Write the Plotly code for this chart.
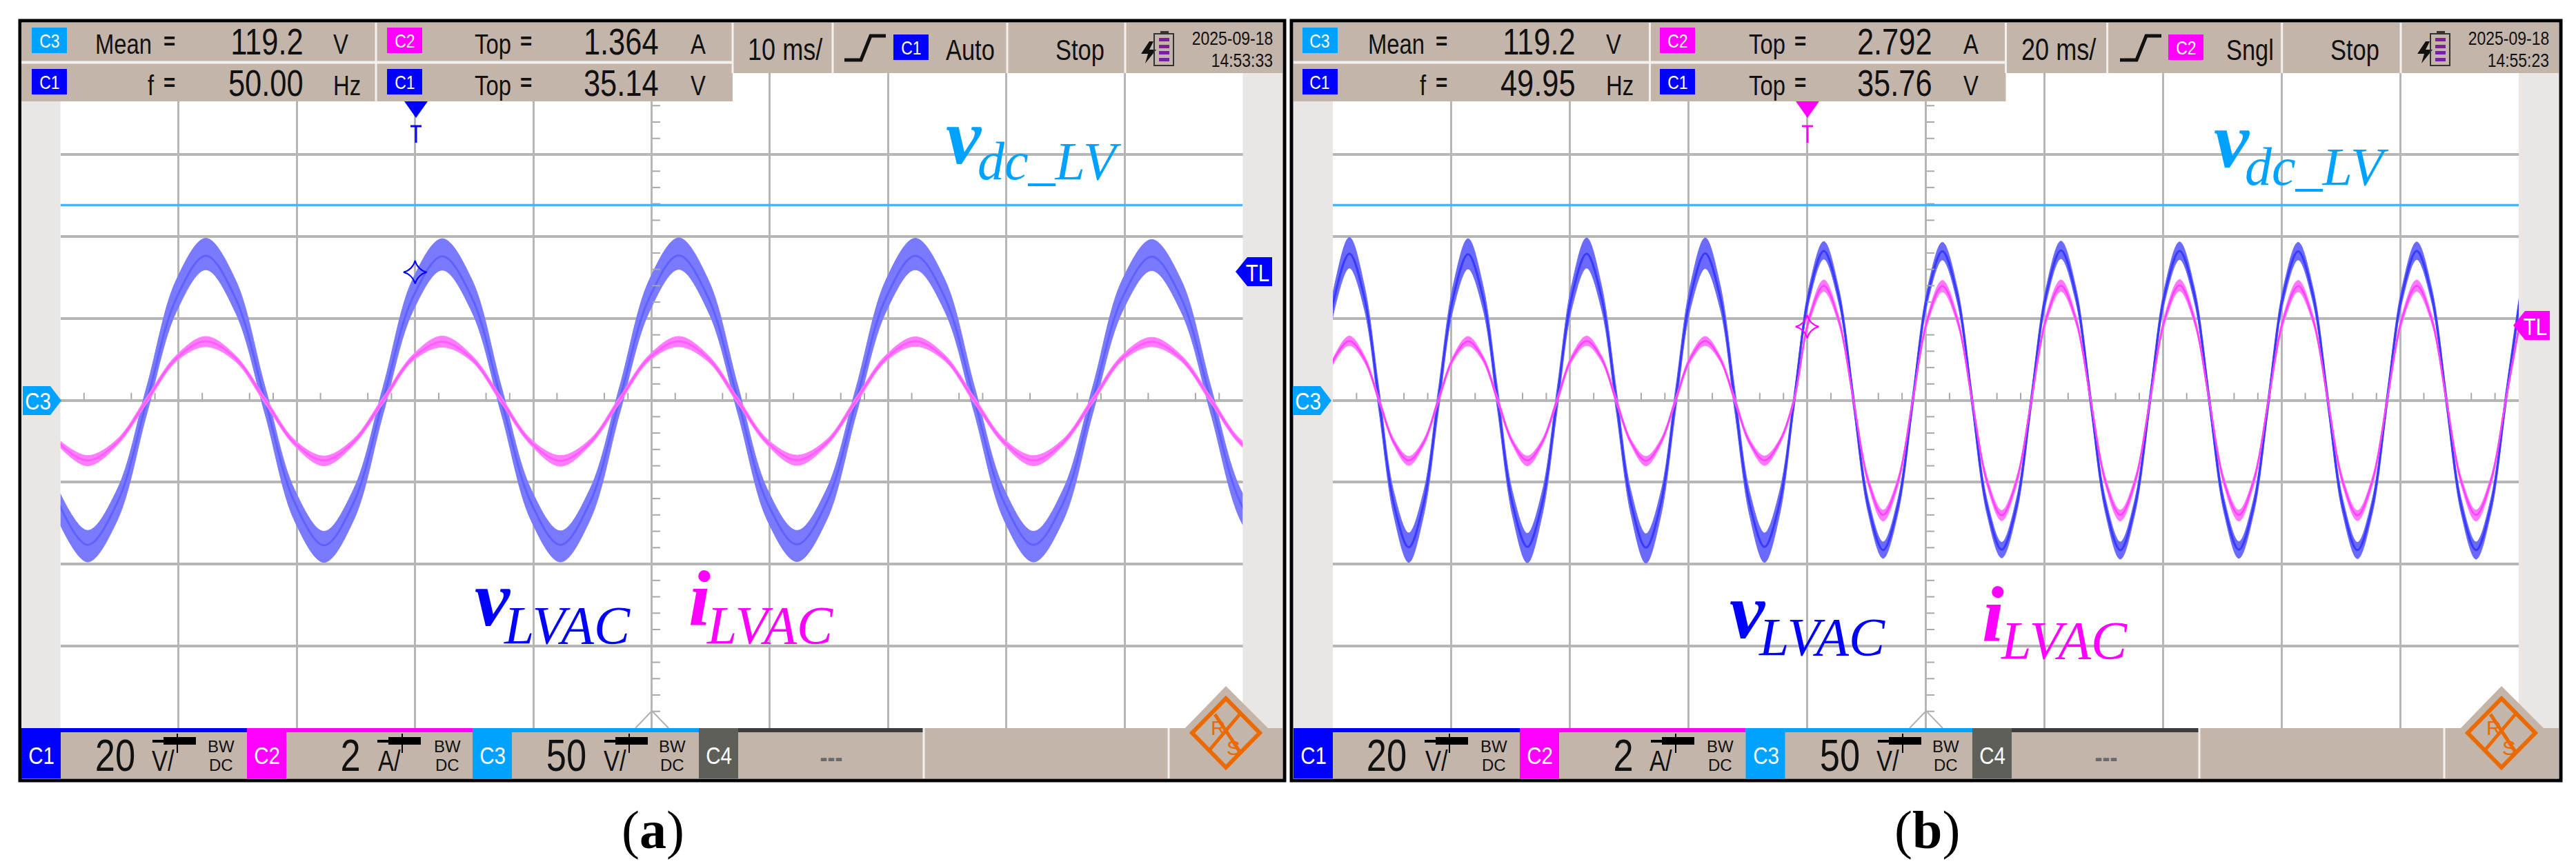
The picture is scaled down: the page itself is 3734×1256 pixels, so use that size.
import plotly.graph_objects as go

# ---------- values read from the two oscilloscope screens ----------
DC_LEVEL = 119.2            # C3 mean, V

STEP_MS = 2.5               # spacing of the read-off points
T0_A = -50.2                # first read-off instant, panel (a), ms
T0_B = -102.2               # first read-off instant, panel (b), ms

# Panel (a): 10 ms/div
v_core_a = [-24.8,-35.3,-25.1,-0.3,24.9,35.3,25.0,0.2,
            -24.9,-35.4,-25.0,0.1,25.1,35.2,25.1,-0.1,
            -25.0,-35.3,-24.9,0.2,25.0,35.4,25.0,0.0,
            -25.1,-35.2,-25.0,-0.2,24.9,35.3,25.1,0.1,
            -24.9,-35.3,-25.1,0.0,25.0,35.1,24.9,-0.1,
            -25.0,-35.4]
v_up_a = [-21.7,-31.8,-21.8,3.3,29.4,39.6,29.5,3.4,
          -21.8,-32.0,-21.7,3.4,29.6,39.5,29.5,3.3,
          -21.7,-31.9,-21.6,3.4,29.4,39.7,29.4,3.5,
          -21.8,-31.8,-21.7,3.2,29.3,39.6,29.5,3.4,
          -21.6,-32.0,-21.8,3.3,29.4,39.3,29.3,3.3,
          -21.7,-32.0]
v_lo_a = [-29.3,-39.5,-29.4,-3.4,21.6,31.9,21.5,-3.3,
          -29.4,-39.6,-29.3,-3.3,21.7,31.8,21.6,-3.4,
          -29.3,-39.5,-29.2,-3.2,21.6,32.0,21.6,-3.3,
          -29.4,-39.4,-29.3,-3.5,21.5,31.9,21.7,-3.2,
          -29.2,-39.5,-29.4,-3.3,21.6,31.7,21.5,-3.4,
          -29.3,-39.6]
i_core_a = [-1.03,-1.47,-1.03,0.00,1.02,1.44,1.03,0.01,
            -1.04,-1.47,-1.02,0.00,1.03,1.43,1.02,0.00,
            -1.03,-1.48,-1.03,0.01,1.03,1.44,1.02,-0.01,
            -1.03,-1.46,-1.04,0.00,1.02,1.44,1.03,0.00,
            -1.02,-1.47,-1.03,0.00,1.03,1.43,1.02,0.01,
            -1.03,-1.47]
i_up_a = [-0.95,-1.35,-0.95,0.08,1.10,1.56,1.10,0.08,
          -0.96,-1.36,-0.94,0.08,1.11,1.57,1.10,0.08,
          -0.95,-1.35,-0.95,0.09,1.11,1.56,1.10,0.07,
          -0.95,-1.34,-0.96,0.08,1.10,1.55,1.11,0.08,
          -0.94,-1.35,-0.95,0.08,1.11,1.54,1.10,0.09,
          -0.95,-1.35]
i_lo_a = [-1.10,-1.60,-1.10,-0.08,0.95,1.31,0.95,-0.08,
          -1.11,-1.60,-1.09,-0.08,0.96,1.30,0.95,-0.08,
          -1.10,-1.61,-1.10,-0.07,0.96,1.31,0.94,-0.09,
          -1.10,-1.59,-1.11,-0.08,0.95,1.32,0.96,-0.08,
          -1.09,-1.60,-1.10,-0.08,0.96,1.31,0.95,-0.07,
          -1.10,-1.60]

# Panel (b): 20 ms/div, load step at the trigger
v_core_b = [0.2,25.3,35.8,25.2,-0.1,-25.4,-35.9,-25.3,
            0.1,25.2,35.7,25.3,0.1,-25.3,-35.8,-25.2,
            -0.1,25.4,35.8,25.2,0.0,-25.2,-36.0,-25.3,
            0.1,25.3,35.9,25.4,-0.1,-25.3,-35.8,-25.4,
            0.0,25.8,36.5,25.7,0.1,-25.8,-36.6,-25.9,
            -0.1,25.7,36.4,25.8,0.0,-25.9,-36.5,-25.8,
            0.1,25.8,36.6,25.9,-0.1,-25.8,-36.6,-25.7,
            0.0,25.9,36.5,25.8,0.1,-25.7,-36.5,-25.8,
            -0.1,25.8,36.4,25.7,0.0,-25.8,-36.6,-25.9,
            0.1,25.7,36.5,25.8,0.0,-25.9,-36.6,-25.8,
            0.0,25.8]
v_up_b = [2.9,28.2,39.8,28.1,2.7,-22.5,-32.4,-22.4,
          2.8,28.1,39.5,28.2,2.9,-22.4,-32.5,-22.3,
          2.7,28.3,39.7,28.1,2.8,-22.3,-32.6,-22.5,
          2.8,28.2,39.7,28.3,2.7,-22.4,-32.4,-22.5,
          1.9,27.6,38.8,27.5,2.0,-24.0,-34.6,-24.1,
          1.8,27.5,38.6,27.6,1.9,-24.1,-34.7,-24.0,
          2.0,27.6,38.9,27.7,1.8,-24.0,-34.6,-23.9,
          1.9,27.7,38.7,27.6,2.0,-23.9,-34.5,-24.0,
          1.8,27.6,38.6,27.5,1.9,-24.0,-34.7,-24.1,
          2.0,27.5,38.7,27.6,1.9,-24.1,-34.6,-24.0,
          1.9,27.6]
v_lo_b = [-2.7,22.4,32.3,22.3,-2.9,-28.3,-39.6,-28.2,
          -2.8,22.3,32.1,22.4,-2.7,-28.2,-39.7,-28.1,
          -2.9,22.5,32.3,22.3,-2.8,-28.1,-39.8,-28.3,
          -2.7,22.4,32.2,22.5,-2.9,-28.2,-39.6,-28.3,
          -1.9,24.0,34.5,23.9,-1.8,-27.6,-38.6,-27.7,
          -2.0,23.9,34.3,24.0,-1.9,-27.7,-38.5,-27.6,
          -1.8,24.0,34.6,24.1,-2.0,-27.6,-38.8,-27.5,
          -1.9,24.1,34.4,24.0,-1.8,-27.5,-38.6,-27.6,
          -2.0,24.0,34.3,23.9,-1.9,-27.6,-38.7,-27.7,
          -1.8,23.9,34.4,24.0,-1.9,-27.7,-38.8,-27.6,
          -1.9,24.0]
i_core_b = [0.00,1.03,1.45,1.02,0.00,-1.03,-1.47,-1.04,
            0.01,1.02,1.44,1.03,0.00,-1.02,-1.47,-1.03,
            0.00,1.03,1.45,1.03,-0.01,-1.03,-1.48,-1.03,
            0.00,1.02,1.45,1.02,0.00,-1.03,-1.47,-1.03,
            0.03,1.98,2.80,1.97,0.00,-1.98,-2.80,-1.99,
            0.01,1.98,2.79,1.98,0.00,-1.97,-2.81,-1.98,
            0.00,1.99,2.80,1.98,0.01,-1.98,-2.80,-1.98,
            0.00,1.98,2.81,1.97,0.00,-1.99,-2.80,-1.97,
            0.01,1.97,2.79,1.98,0.00,-1.98,-2.81,-1.98,
            0.00,1.98,2.80,1.99,0.00,-1.98,-2.80,-1.97,
            0.00,1.98]
i_up_b = [0.08,1.10,1.57,1.10,0.07,-0.95,-1.37,-0.96,
          0.08,1.09,1.56,1.10,0.08,-0.95,-1.36,-0.95,
          0.07,1.11,1.57,1.10,0.07,-0.96,-1.37,-0.95,
          0.08,1.10,1.56,1.09,0.08,-0.95,-1.36,-0.96,
          0.10,2.08,2.94,2.07,0.07,-1.88,-2.68,-1.89,
          0.08,2.08,2.93,2.08,0.07,-1.87,-2.69,-1.88,
          0.07,2.09,2.94,2.08,0.08,-1.88,-2.68,-1.88,
          0.07,2.08,2.95,2.07,0.07,-1.89,-2.68,-1.87,
          0.08,2.07,2.93,2.08,0.07,-1.88,-2.69,-1.88,
          0.07,2.08,2.94,2.09,0.07,-1.88,-2.68,-1.87,
          0.07,2.08]
i_lo_b = [-0.08,0.95,1.34,0.94,-0.07,-1.10,-1.59,-1.11,
          -0.07,0.95,1.33,0.95,-0.08,-1.09,-1.60,-1.10,
          -0.08,0.95,1.34,0.95,-0.09,-1.10,-1.60,-1.10,
          -0.07,0.94,1.34,0.95,-0.08,-1.10,-1.59,-1.10,
          -0.05,1.88,2.66,1.87,-0.07,-2.08,-2.95,-2.09,
          -0.06,1.88,2.65,1.88,-0.07,-2.07,-2.94,-2.08,
          -0.07,1.89,2.66,1.88,-0.06,-2.08,-2.95,-2.08,
          -0.07,1.88,2.67,1.87,-0.07,-2.09,-2.95,-2.07,
          -0.06,1.87,2.65,1.88,-0.07,-2.08,-2.94,-2.08,
          -0.07,1.88,2.66,1.89,-0.07,-2.08,-2.95,-2.07,
          -0.07,1.88]

# trigger crossing markers
TRIG_T = -20
TRIG_V_A = 31.3
TRIG_I_B = 1.80

# readouts: labels and numbers on the instrument
hdr_a = dict(c3="119.2", f="50.00", c2="1.364", c1="35.14", tb="10 ms/", src="C1", mode="Auto",
             date="2025-09-18", time="14:53:33")
hdr_b = dict(c3="119.2", f="49.95", c2="2.792", c1="35.76", tb="20 ms/", src="C2", mode="Sngl",
             date="2025-09-18", time="14:55:23")
foot_scales = ["20", "2", "50"]
foot_units = ["V/", "A/", "V/"]

# ---------- styling ----------
W, H = 3734, 1256
TOP, BOTTOM = 105.7, 1055.5
BLUE, PINK, SKY = "#0000ff", "#ff00ff", "#00a2ff"
DARK = "#5f5f5a"
PANEL = "#c3b5aa"
SIDE = "#e9e6e3"
GRID = "#b6b6b6"
ORANGE = "#ea6a00"
NARROW = "Liberation Sans, Narrow, sans-serif"
PLAIN = "Liberation Sans, sans-serif"


def X(p):
    return p / W


def Y(p):
    return 1 - p / H


shapes, notes = [], []


def rect(x0, y0, x1, y1, fill, line=None, lw=0):
    shapes.append(dict(type="rect", xref="paper", yref="paper", layer="above",
                       x0=X(x0), x1=X(x1), y0=Y(y0), y1=Y(y1), fillcolor=fill,
                       line=dict(color=line or fill, width=lw)))


def seg(x0, y0, x1, y1, color, lw):
    shapes.append(dict(type="line", xref="paper", yref="paper", layer="above",
                       x0=X(x0), x1=X(x1), y0=Y(y0), y1=Y(y1), line=dict(color=color, width=lw)))


def poly(pts, fill=None, line=None, lw=0, close=True):
    d = "M " + " L ".join(f"{X(a):.6f},{Y(b):.6f}" for a, b in pts) + (" Z" if close else "")
    shapes.append(dict(type="path", xref="paper", yref="paper", layer="above", path=d,
                       fillcolor=fill or "rgba(0,0,0,0)",
                       line=dict(color=line or "rgba(0,0,0,0)", width=lw)))


def text(x, base, s, size, color="#111111", anchor="left", font=NARROW, d=0.212):
    notes.append(dict(xref="paper", yref="paper", x=X(x), y=Y(base + d * size + 1), text=s,
                      showarrow=False, xanchor=anchor, yanchor="bottom", borderpad=0,
                      font=dict(family=font, size=size, color=color)))


def badge(x0, y0, x1, y1, label, color, size):
    rect(x0, y0, x1, y1, color)
    text((x0 + x1) / 2, (y0 + y1) / 2 + size * 0.36, label, size, "#ffffff", "center")


def battery(x):
    poly([(x + 12, 60), (x, 78), (x + 10, 78), (x + 6, 92), (x + 22, 72), (x + 12, 72), (x + 18, 60)], fill="#111111")
    rect(x + 19, 49, x + 47, 95, "rgba(0,0,0,0)", "#333333", 2)
    rect(x + 28, 45, x + 40, 49, "#333333")
    for yb in (55, 65, 74, 84):
        rect(x + 26, yb, x + 41, yb + 5, "#7a1fa2")


def probe(x):
    rect(x, 1073, x + 18, 1077, "#000000")
    rect(x + 16, 1069, x + 63, 1080, "#000000")
    seg(x + 36, 1064, x + 36, 1092, "#000000", 2)


def logo(cx, ax0, ax1):
    poly([(cx, 995), (ax0, 1058), (ax1, 1058)], fill=PANEL)
    cy, hw, hh = 1063, 49, 50
    poly([(cx, cy - hh), (cx + hw, cy), (cx, cy + hh), (cx - hw, cy)], line=ORANGE, lw=6)
    seg(cx + 20, cy - 27, cx - 24, cy + 25, ORANGE, 5)
    seg(cx - 16, cy - 27, cx + 20, cy + 27, ORANGE, 5)
    text(cx - 11, cy + 3, "R", 30, ORANGE, "center", PLAIN)
    text(cx + 11, cy + 32, "S", 30, ORANGE, "center", PLAIN)


def panel_chrome(L, R, pl, pr, hdr, p):
    # outer frame
    rect(p["fl"], 30, p["fr"], 1132, "rgba(0,0,0,0)", "#000000", 5)
    rect(L, 147, pl, 1056, SIDE)
    rect(pr, 106, R, 1056, SIDE)
    # top read-outs
    rect(L, 33, p["m"], 147, PANEL)
    rect(p["m"], 33, R, 106, PANEL)
    seg(L, 90.5, p["m"], 90.5, "#f2efec", 4)
    seg(p["s"], 33, p["s"], 147, "#f2efec", 3)
    for v in p["tops"]:
        seg(v, 33, v, 106, "#f2efec", 3)
    badge(p["c"], 40, p["c"] + 51, 77, "C3", SKY, 28)
    badge(p["c"], 100, p["c"] + 51, 137, "C1", BLUE, 28)
    badge(p["c2"], 40, p["c2"] + 51, 77, "C2", PINK, 28)
    badge(p["c2"], 100, p["c2"] + 51, 137, "C1", BLUE, 28)
    text(p["mean"], 78, "Mean", 40)
    text(p["eq"], 72, "<b>=</b>", 36)
    text(p["f"], 138, "f", 40)
    text(p["eq"], 132, "<b>=</b>", 36)
    text(p["val"], 79, hdr["c3"], 53, anchor="right")
    text(p["val"], 139, hdr["f"], 53, anchor="right")
    text(p["u"], 78, "V", 40)
    text(p["u"], 138, "Hz", 40)
    text(p["top"], 78, "Top", 40)
    text(p["eq2"], 72, "<b>=</b>", 36)
    text(p["top"], 138, "Top", 40)
    text(p["eq2"], 132, "<b>=</b>", 36)
    text(p["val2"], 79, hdr["c2"], 53, anchor="right")
    text(p["val2"], 139, hdr["c1"], 53, anchor="right")
    text(p["u2"], 78, "A", 40)
    text(p["u2"], 138, "V", 40)
    text(p["tb"], 87, hdr["tb"], 44)
    g = p["glyph"]
    poly([(g, 87), (g + 24, 87), (g + 38, 52), (g + 60, 52)], line="#111111", lw=5, close=False)
    badge(p["src"], 50, p["src"] + 51, 87, hdr["src"], p["srcc"], 28)
    text(p["mode"], 87, hdr["mode"], 42)
    text(p["stop"], 87, "Stop", 42)
    battery(p["bat"])
    text(p["dx"], 65, hdr["date"], 28, anchor="right")
    text(p["dx"], 97, hdr["time"], 28, anchor="right")
    # trigger arrow at the top
    tx = p["trig"]
    poly([(tx - 17, 147), (tx + 17, 147), (tx, 171)], fill=p["srcc"])
    seg(tx, 182, tx, 207, p["srcc"], 3)
    seg(tx - 8, 183, tx + 8, 183, p["srcc"], 3)
    # right-hand trigger level flag
    ty, fx = p["tly"], p["flag"]
    poly([(fx, ty), (fx + 17, ty - 21), (fx + 53, ty - 21), (fx + 53, ty + 21), (fx + 17, ty + 21)], fill=p["srcc"])
    text(fx + 32, ty + 14, "TL", 36, "#ffffff", "center")
    # left C3 ground flag
    gx = p["gnd"]
    poly([(gx, 560), (gx + 40, 560), (gx + 56, 581), (gx + 40, 602), (gx, 602)], fill=SKY)
    text(gx + 22, 594, "C3", 36, "#ffffff", "center")
    # centre marker at the bottom
    poly([(p["cx"] - 24, 1056), (p["cx"], 1031), (p["cx"] + 24, 1056)], line="#b0b0b0", lw=2, close=False)
    # footer
    rect(L, 1062, R, 1129, PANEL)
    for i, (x0, col) in enumerate(zip(p["fbox"], (BLUE, PINK, SKY, DARK))):
        next_x = p["fbox"][i + 1] if i < 3 else p["fend"]
        rect(x0, 1056, next_x, 1062, "#3c3c3c" if i == 3 else col)
        rect(x0, 1056, x0 + 57, 1129, col)
        text(x0 + 29, 1108, f"C{i + 1}", 36, "#ffffff", "center")
    for i in range(3):
        text(p["nr"][i], 1118, foot_scales[i], 64, anchor="right")
        text(p["un"][i], 1118, foot_units[i], 42)
        probe(p["pr"][i])
        text(p["bw"][i], 1091, "BW", 24, anchor="center", font=PLAIN)
        text(p["bw"][i], 1118, "DC", 24, anchor="center", font=PLAIN)
    text((p["fbox"][3] + p["fend"]) / 2 + 29, 1112, "<b>---</b>", 40, "#6a6a6a", "center")
    rect(p["fend"], 1056, R, 1062, PANEL)
    seg(p["fend"], 1056, p["fend"], 1129, "#f2efec", 3)
    seg(p["fe2"], 1056, p["fe2"], 1129, "#f2efec", 3)
    logo(p["lx"], p["lx"] - 61, p["lx"] + 63)


A = dict(fl=29, fr=1862, m=1062, s=545, tops=[1062, 1207, 1460, 1631], c=46, c2=561, mean=137, eq=236, f=213,
         val=441, u=482, top=687, eq2=753, val2=956, u2=1000, tb=1083, glyph=1224, src=1295, srcc=BLUE, mode=1370,
         stop=1529, bat=1654, dx=1846, trig=603, tly=394, flag=1791, gnd=33, cx=945,
         fbox=[31, 358, 685, 1013], fend=1339, fe2=1694, nr=[197, 524, 851], un=[219, 547, 874],
         pr=[221, 547, 876], bw=[320, 648, 975], lx=1777)
B = dict(fl=1872, fr=3712, m=2907.5, s=2391.5, tops=[2907.5, 3054.6, 3307.7, 3480], c=1888, c2=2406, mean=1982,
         eq=2080, f=2057, val=2285, u=2327, top=2534, eq2=2600, val2=2802, u2=2845, tb=2929, glyph=3073, src=3143,
         srcc=PINK, mode=3226, stop=3377, bat=3504, dx=3696, trig=2620, tly=472, flag=3643, gnd=1874, cx=2792,
         fbox=[1875, 2203, 2530.5, 2859], fend=3188, fe2=3543, nr=[2040, 2369, 2697], un=[2065, 2390, 2719],
         pr=[2065, 2393, 2722], bw=[2165, 2493, 2820], lx=3626)

panel_chrome(31, 1859, 87.5, 1801.5, hdr_a, A)
panel_chrome(1875, 3709, 1932, 3651, hdr_b, B)

# waveform name labels
LBL = "Liberation Serif, serif"
for (x, base, s, size, col) in [
    (1370, 237, "<b><i>v</i></b>", 115, SKY), (1416, 260, "<i>dc_LV</i>", 78, SKY),
    (3208, 242, "<b><i>v</i></b>", 115, SKY), (3253, 268, "<i>dc_LV</i>", 78, SKY),
    (687, 907, "<b><i>v</i></b>", 115, BLUE), (729, 933, "<i>LVAC</i>", 78, BLUE),
    (997, 907, "<b><i>i</i></b>", 115, PINK), (1023, 933, "<i>LVAC</i>", 78, PINK),
    (2506, 925, "<b><i>v</i></b>", 115, BLUE), (2548, 950, "<i>LVAC</i>", 78, BLUE),
    (2872, 930, "<b><i>i</i></b>", 115, PINK), (2899, 955, "<i>LVAC</i>", 78, PINK),
]:
    text(x, base, s, size, col, "left", LBL, d=0.216)

# panel captions
text(946, 1230, "(<b>a</b>)", 78, "#000000", "center", LBL, d=0.216)
text(2793, 1230, "(<b>b</b>)", 78, "#000000", "center", LBL, d=0.216)


# ---------- traces ----------
def times(t0, vals):
    return [t0 + STEP_MS * i for i in range(len(vals))]


def band(fig, t0, up, lo, core, xa, ya, fill, core_col, core_w):
    t = times(t0, up)
    common = dict(xaxis=xa, yaxis=ya, mode="lines", hoverinfo="skip", showlegend=False)
    fig.add_trace(go.Scatter(x=t, y=lo, line=dict(color=fill, width=1, shape="spline"), **common))
    fig.add_trace(go.Scatter(x=t, y=up, fill="tonexty", fillcolor=fill,
                             line=dict(color=fill, width=1, shape="spline"), **common))
    fig.add_trace(go.Scatter(x=times(t0, core), y=core, line=dict(color=core_col, width=core_w, shape="spline"), **common))


fig = go.Figure()

# panel a: C1 on y, C2 on y2, C3 on y3
band(fig, T0_A, i_up_a, i_lo_a, i_core_a, "x", "y2", "#ff7eff", "#ff5cff", 3)
band(fig, T0_A, v_up_a, v_lo_a, v_core_a, "x", "y", "#7a7aff", "#6060ff", 3)
# panel b: C1 on y4, C2 on y5, C3 on y6
band(fig, T0_B, i_up_b, i_lo_b, i_core_b, "x2", "y5", "#ff78ff", "#ff40ff", 2.5)
band(fig, T0_B, v_up_b, v_lo_b, v_core_b, "x2", "y4", "#6a6aff", "#3a3aff", 3)

for xa, ya, span in (("x", "y3", 50), ("x2", "y6", 100)):
    fig.add_trace(go.Scatter(x=[-span, span], y=[DC_LEVEL, DC_LEVEL], xaxis=xa, yaxis=ya, mode="lines",
                             line=dict(color="#45b5ff", width=3.5), hoverinfo="skip", showlegend=False))

# trigger crossing diamonds
star = dict(symbol="star-diamond-open", size=24, line=dict(width=2))
fig.add_trace(go.Scatter(x=[TRIG_T], y=[TRIG_V_A], xaxis="x", yaxis="y", mode="markers",
                         marker=dict(color=BLUE, **star), hoverinfo="skip", showlegend=False))
fig.add_trace(go.Scatter(x=[TRIG_T], y=[TRIG_I_B], xaxis="x2", yaxis="y5", mode="markers",
                         marker=dict(color=PINK, **star), hoverinfo="skip", showlegend=False))

# centre-line graticule ticks (fifths of a division)
for xa, ya, d_ms, d_v in (("x", "y", 10, 20), ("x2", "y4", 20, 20)):
    tx = [(n + f) * d_ms for n in range(-5, 5) for f in (0.2, 0.6, 0.8)]
    ty = [(n + f) * d_v for n in range(-4, 4) for f in (0.2, 0.4, 0.6, 0.8)]
    fig.add_trace(go.Scatter(x=tx, y=[1.0] * len(tx), xaxis=xa, yaxis=ya, mode="markers", hoverinfo="skip",
                             showlegend=False, marker=dict(color="#a8a8a8", symbol="line-ns-open", size=7,
                                                           line=dict(color="#a8a8a8", width=2))))
    fig.add_trace(go.Scatter(x=[0.4 if d_ms == 10 else 0.8] * len(ty), y=ty, xaxis=xa, yaxis=ya, mode="markers",
                             hoverinfo="skip", showlegend=False,
                             marker=dict(color="#a8a8a8", symbol="line-ew-open", size=8,
                                         line=dict(color="#a8a8a8", width=2))))


def xax(x0, x1, span, dt):
    return dict(domain=[X(x0), X(x1)], range=[-span, span], tick0=0, dtick=dt, showgrid=True, gridcolor=GRID,
                gridwidth=2.5, zeroline=False, showticklabels=False, ticks="", showline=True, mirror=True,
                linecolor=GRID, linewidth=2, anchor="y", fixedrange=True)


def yax(r, dt=None, over=None, anchor="x"):
    d = dict(domain=[Y(BOTTOM), Y(TOP)], range=[-r, r], showticklabels=False, ticks="", zeroline=False,
             anchor=anchor, fixedrange=True)
    if over:
        d.update(overlaying=over, showgrid=False, showline=False)
    else:
        d.update(showgrid=True, gridcolor=GRID, gridwidth=3.5, tick0=0, dtick=dt)
    return d


xb = xax(1932, 3651, 100, 20)
xb["anchor"] = "y4"
fig.update_layout(
    width=W, height=H, margin=dict(l=0, r=0, t=0, b=0, pad=0), paper_bgcolor="#ffffff", plot_bgcolor="#ffffff",
    showlegend=False, hovermode=False,
    xaxis=xax(87.5, 1801.5, 50, 10), xaxis2=xb,
    yaxis=yax(80, 20), yaxis2=yax(8, over="y"), yaxis3=yax(200, over="y"),
    yaxis4=yax(80, 20, anchor="x2"), yaxis5=yax(8, over="y4", anchor="x2"), yaxis6=yax(200, over="y4", anchor="x2"),
    shapes=shapes, annotations=notes,
)

# The instrument's read-out type is condensed: squeeze those texts sideways about their anchor.
SQUEEZE_JS = """
document.body.style.margin='0';
var gd=document.getElementById('{plot_id}'),s=0.82;
gd.querySelectorAll('.annotation').forEach(function(g){
  var a=gd.layout.annotations[+g.getAttribute('data-index')];
  if(!a||a.font.family.indexOf('Narrow')<0)return;
  var t=g.querySelector('text');if(!t)return;
  var b=t.getBBox();
  var p=a.xanchor=='left'?b.x:(a.xanchor=='right'?b.x+b.width:b.x+b.width/2);
  t.setAttribute('transform','translate('+(p*(1-s))+',0) scale('+s+',1)');
});
"""
fig.write_html("out.html", config=dict(displayModeBar=False), post_script=SQUEEZE_JS)
